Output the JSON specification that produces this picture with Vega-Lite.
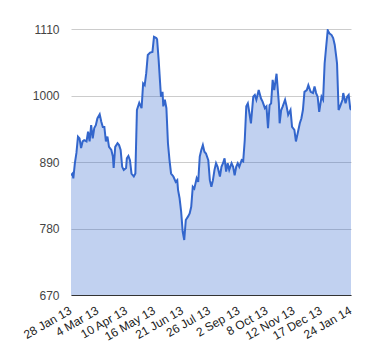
{
  "$schema": "https://vega.github.io/schema/vega-lite/v6.json",
  "width": 280,
  "height": 266,
  "autosize": {"type": "none"},
  "padding": {"left": 71, "top": 29, "right": 29, "bottom": 65},
  "background": "white",
  "config": {
    "view": {"stroke": null},
    "font": "Liberation Sans"
  },
  "data": {
    "values": [
      {"date": "2013-01-28", "value": 868},
      {"date": "2013-01-30", "value": 871},
      {"date": "2013-01-31", "value": 863},
      {"date": "2013-02-02", "value": 888},
      {"date": "2013-02-04", "value": 905},
      {"date": "2013-02-06", "value": 932},
      {"date": "2013-02-08", "value": 929},
      {"date": "2013-02-10", "value": 913},
      {"date": "2013-02-12", "value": 924},
      {"date": "2013-02-14", "value": 926},
      {"date": "2013-02-17", "value": 924},
      {"date": "2013-02-19", "value": 940},
      {"date": "2013-02-21", "value": 924},
      {"date": "2013-02-23", "value": 951},
      {"date": "2013-02-25", "value": 929},
      {"date": "2013-02-27", "value": 946},
      {"date": "2013-03-01", "value": 951},
      {"date": "2013-03-03", "value": 962},
      {"date": "2013-03-06", "value": 969},
      {"date": "2013-03-08", "value": 957},
      {"date": "2013-03-10", "value": 948},
      {"date": "2013-03-12", "value": 948},
      {"date": "2013-03-14", "value": 924},
      {"date": "2013-03-16", "value": 932},
      {"date": "2013-03-18", "value": 915},
      {"date": "2013-03-21", "value": 910},
      {"date": "2013-03-23", "value": 899},
      {"date": "2013-03-24", "value": 880},
      {"date": "2013-03-26", "value": 915},
      {"date": "2013-03-29", "value": 921},
      {"date": "2013-03-31", "value": 918},
      {"date": "2013-04-02", "value": 910},
      {"date": "2013-04-04", "value": 882},
      {"date": "2013-04-06", "value": 877},
      {"date": "2013-04-09", "value": 880},
      {"date": "2013-04-10", "value": 896},
      {"date": "2013-04-12", "value": 900},
      {"date": "2013-04-14", "value": 893},
      {"date": "2013-04-16", "value": 871},
      {"date": "2013-04-19", "value": 866},
      {"date": "2013-04-21", "value": 871},
      {"date": "2013-04-23", "value": 976},
      {"date": "2013-04-26", "value": 988},
      {"date": "2013-04-29", "value": 979},
      {"date": "2013-05-01", "value": 1020},
      {"date": "2013-05-03", "value": 1017},
      {"date": "2013-05-05", "value": 1037},
      {"date": "2013-05-07", "value": 1067},
      {"date": "2013-05-10", "value": 1071},
      {"date": "2013-05-13", "value": 1072},
      {"date": "2013-05-15", "value": 1097},
      {"date": "2013-05-18", "value": 1095},
      {"date": "2013-05-19", "value": 1093},
      {"date": "2013-05-21", "value": 1059},
      {"date": "2013-05-24", "value": 998},
      {"date": "2013-05-26", "value": 1006},
      {"date": "2013-05-27", "value": 982},
      {"date": "2013-05-29", "value": 993},
      {"date": "2013-05-31", "value": 979},
      {"date": "2013-06-02", "value": 921},
      {"date": "2013-06-04", "value": 893},
      {"date": "2013-06-06", "value": 871},
      {"date": "2013-06-09", "value": 866},
      {"date": "2013-06-12", "value": 857},
      {"date": "2013-06-14", "value": 860},
      {"date": "2013-06-15", "value": 844},
      {"date": "2013-06-17", "value": 830},
      {"date": "2013-06-19", "value": 808},
      {"date": "2013-06-21", "value": 775},
      {"date": "2013-06-23", "value": 761},
      {"date": "2013-06-25", "value": 794},
      {"date": "2013-06-28", "value": 800},
      {"date": "2013-06-30", "value": 805},
      {"date": "2013-07-02", "value": 816},
      {"date": "2013-07-04", "value": 849},
      {"date": "2013-07-06", "value": 846},
      {"date": "2013-07-09", "value": 863},
      {"date": "2013-07-11", "value": 857},
      {"date": "2013-07-13", "value": 899},
      {"date": "2013-07-15", "value": 910},
      {"date": "2013-07-17", "value": 918},
      {"date": "2013-07-19", "value": 907},
      {"date": "2013-07-21", "value": 904},
      {"date": "2013-07-24", "value": 893},
      {"date": "2013-07-26", "value": 860},
      {"date": "2013-07-28", "value": 849},
      {"date": "2013-07-30", "value": 860},
      {"date": "2013-08-01", "value": 877},
      {"date": "2013-08-03", "value": 888},
      {"date": "2013-08-05", "value": 882},
      {"date": "2013-08-08", "value": 866},
      {"date": "2013-08-10", "value": 882},
      {"date": "2013-08-12", "value": 888},
      {"date": "2013-08-14", "value": 896},
      {"date": "2013-08-16", "value": 874},
      {"date": "2013-08-18", "value": 888},
      {"date": "2013-08-20", "value": 877},
      {"date": "2013-08-23", "value": 888},
      {"date": "2013-08-25", "value": 882},
      {"date": "2013-08-27", "value": 868},
      {"date": "2013-08-29", "value": 882},
      {"date": "2013-08-31", "value": 888},
      {"date": "2013-09-02", "value": 882},
      {"date": "2013-09-05", "value": 893},
      {"date": "2013-09-07", "value": 891},
      {"date": "2013-09-09", "value": 926},
      {"date": "2013-09-11", "value": 982},
      {"date": "2013-09-13", "value": 987},
      {"date": "2013-09-15", "value": 971},
      {"date": "2013-09-17", "value": 954},
      {"date": "2013-09-20", "value": 998},
      {"date": "2013-09-22", "value": 1001},
      {"date": "2013-09-24", "value": 993},
      {"date": "2013-09-27", "value": 1009},
      {"date": "2013-09-30", "value": 995},
      {"date": "2013-10-02", "value": 990},
      {"date": "2013-10-05", "value": 979},
      {"date": "2013-10-07", "value": 982},
      {"date": "2013-10-09", "value": 946},
      {"date": "2013-10-11", "value": 984},
      {"date": "2013-10-13", "value": 987},
      {"date": "2013-10-15", "value": 1026},
      {"date": "2013-10-17", "value": 1009},
      {"date": "2013-10-20", "value": 1036},
      {"date": "2013-10-23", "value": 987},
      {"date": "2013-10-24", "value": 954},
      {"date": "2013-10-26", "value": 976},
      {"date": "2013-10-28", "value": 982},
      {"date": "2013-10-31", "value": 993},
      {"date": "2013-11-02", "value": 982},
      {"date": "2013-11-04", "value": 968},
      {"date": "2013-11-07", "value": 976},
      {"date": "2013-11-09", "value": 948},
      {"date": "2013-11-12", "value": 943},
      {"date": "2013-11-14", "value": 924},
      {"date": "2013-11-19", "value": 954},
      {"date": "2013-11-21", "value": 962},
      {"date": "2013-11-23", "value": 976},
      {"date": "2013-11-25", "value": 1006},
      {"date": "2013-11-28", "value": 1009},
      {"date": "2013-11-30", "value": 1017},
      {"date": "2013-12-03", "value": 1006},
      {"date": "2013-12-06", "value": 1004},
      {"date": "2013-12-08", "value": 1015},
      {"date": "2013-12-10", "value": 1004},
      {"date": "2013-12-12", "value": 998},
      {"date": "2013-12-14", "value": 973},
      {"date": "2013-12-17", "value": 998},
      {"date": "2013-12-19", "value": 993},
      {"date": "2013-12-21", "value": 1053},
      {"date": "2013-12-23", "value": 1081},
      {"date": "2013-12-25", "value": 1108},
      {"date": "2013-12-27", "value": 1103},
      {"date": "2013-12-30", "value": 1100},
      {"date": "2014-01-01", "value": 1095},
      {"date": "2014-01-03", "value": 1084},
      {"date": "2014-01-05", "value": 1064},
      {"date": "2014-01-06", "value": 1053},
      {"date": "2014-01-08", "value": 976},
      {"date": "2014-01-10", "value": 982},
      {"date": "2014-01-13", "value": 993},
      {"date": "2014-01-14", "value": 1004},
      {"date": "2014-01-17", "value": 987},
      {"date": "2014-01-19", "value": 998},
      {"date": "2014-01-21", "value": 1001},
      {"date": "2014-01-23", "value": 979},
      {"date": "2014-01-24", "value": 976}
    ]
  },
  "mark": {
    "type": "area",
    "color": "#3366cc",
    "fillOpacity": 0.3,
    "line": {"color": "#3366cc", "strokeWidth": 2},
    "clip": true
  },
  "encoding": {
    "x": {
      "field": "date",
      "type": "temporal",
      "title": null,
      "scale": {
        "type": "utc",
        "nice": false,
        "domain": [
          {"year": 2013, "month": 1, "date": 28, "utc": true},
          {"year": 2014, "month": 1, "date": 24, "utc": true}
        ]
      },
      "axis": {
        "values": [
          {"year": 2013, "month": 1, "date": 28, "utc": true},
          {"year": 2013, "month": 3, "date": 4, "utc": true},
          {"year": 2013, "month": 4, "date": 10, "utc": true},
          {"year": 2013, "month": 5, "date": 16, "utc": true},
          {"year": 2013, "month": 6, "date": 21, "utc": true},
          {"year": 2013, "month": 7, "date": 26, "utc": true},
          {"year": 2013, "month": 9, "date": 2, "utc": true},
          {"year": 2013, "month": 10, "date": 8, "utc": true},
          {"year": 2013, "month": 11, "date": 12, "utc": true},
          {"year": 2013, "month": 12, "date": 17, "utc": true},
          {"year": 2014, "month": 1, "date": 24, "utc": true}
        ],
        "format": "%-d %b %y",
        "labelAngle": -30,
        "labelAlign": "right",
        "labelBaseline": "middle",
        "labelFontSize": 12,
        "labelColor": "#222222",
        "labelFont": "Liberation Sans",
        "labelPadding": 14,
        "labelOffset": -1,
        "labelOverlap": false,
        "labelBound": false,
        "labelFlush": false,
        "ticks": false,
        "grid": false,
        "domainColor": "#333333",
        "domainWidth": 1
      }
    },
    "y": {
      "field": "value",
      "type": "quantitative",
      "title": null,
      "scale": {"domain": [670, 1110], "zero": false, "nice": false},
      "axis": {
        "values": [670, 780, 890, 1000, 1110],
        "format": "d",
        "labelFontSize": 12,
        "labelColor": "#444444",
        "labelFont": "Liberation Sans",
        "labelPadding": 12,
        "ticks": false,
        "domain": false,
        "gridColor": "#cccccc",
        "gridWidth": 1
      }
    },
    "y2": {"datum": 670}
  }
}
